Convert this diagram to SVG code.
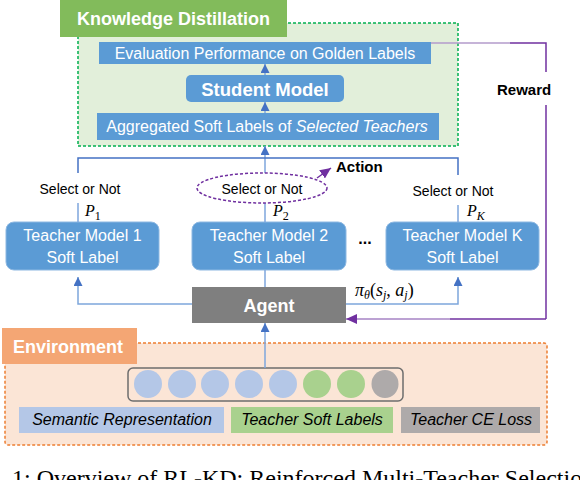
<svg xmlns="http://www.w3.org/2000/svg" width="580" height="480" viewBox="0 0 580 480">
<defs>
<style>
.sans{font-family:"Liberation Sans",Arial,sans-serif}
.serif{font-family:"Liberation Serif","Times New Roman",serif}
.box{fill:#5B9BD5}
.tbox{fill:#5B9BD5;stroke:#8DB8E2;stroke-width:1}
.wt{fill:#ffffff;font-family:"Liberation Sans",Arial,sans-serif;font-size:16px;text-anchor:middle}
.wb{fill:#ffffff;font-family:"Liberation Sans",Arial,sans-serif;font-weight:bold}
.bl{fill:none;stroke:#7EA6DC;stroke-width:1.5}
.bd{fill:none;stroke:#4472C4;stroke-width:1.5}
.pl{fill:none;stroke:#7030A0;stroke-width:1.5}
.sel{font-family:"Liberation Sans",Arial,sans-serif;font-size:14px;fill:#000;text-anchor:middle}
.p{font-family:"Liberation Serif","Times New Roman",serif;font-style:italic;fill:#000}
.leg{font-family:"Liberation Sans",Arial,sans-serif;font-style:italic;font-size:16px;fill:#000;text-anchor:middle}
</style>
<marker id="ab" markerWidth="9" markerHeight="9" refX="9" refY="4.5" orient="auto" markerUnits="userSpaceOnUse"><path d="M0,0 L9,4.5 L0,9 z" fill="#4472C4"/></marker>
<marker id="ap" markerWidth="11" markerHeight="10" refX="11" refY="5" orient="auto" markerUnits="userSpaceOnUse"><path d="M0,0 L11,5 L0,10 z" fill="#7030A0"/></marker>
</defs>
<rect width="580" height="480" fill="#ffffff"/>

<g id="environment">
<rect x="5" y="343" width="542" height="102" rx="3" fill="#FBE5D6" stroke="#ED7D31" stroke-width="1.5" stroke-dasharray="3,2"/>
<rect x="2" y="328" width="135" height="36" fill="#F4A674"/>
<text x="13" y="353" class="wb" font-size="18">Environment</text>
</g>

<g id="state-vector">
<rect x="128" y="368" width="275" height="33" rx="5" fill="none" stroke="#6E6E6E" stroke-width="1.5"/>
<circle cx="148" cy="384" r="14" fill="#B4C7E7"/>
<circle cx="182" cy="384" r="14" fill="#B4C7E7"/>
<circle cx="215" cy="384" r="14" fill="#B4C7E7"/>
<circle cx="249" cy="384" r="14" fill="#B4C7E7"/>
<circle cx="283" cy="384" r="14" fill="#B4C7E7"/>
<circle cx="317" cy="384" r="14" fill="#A9D18E"/>
<circle cx="351" cy="384" r="14" fill="#A9D18E"/>
<ellipse cx="385" cy="384" rx="13.5" ry="14" fill="#AEAAAA"/>
</g>

<g id="legend-semantic">
<rect x="19" y="407" width="205" height="26" fill="#B4C7E7"/>
<text x="122" y="425" class="leg">Semantic Representation</text>
</g>
<g id="legend-soft">
<rect x="231" y="407" width="162" height="26" fill="#A9D18E"/>
<text x="312" y="425" class="leg">Teacher Soft Labels</text>
</g>
<g id="legend-ce">
<rect x="401" y="407" width="139" height="26" fill="#AEAAAA"/>
<text x="471" y="425" class="leg">Teacher CE Loss</text>
</g>

<g id="knowledge-distillation">
<rect x="78" y="23" width="380" height="123" fill="#E2EFDA" stroke="#00B050" stroke-width="1.5" stroke-dasharray="3,2"/>
<rect x="60" y="0" width="227" height="37" fill="#82BB5B"/>
<text x="77" y="25" class="wb" font-size="18">Knowledge Distillation</text>
</g>

<g id="evaluation">
<rect x="99" y="42" width="332" height="22" class="box"/>
<text x="265" y="59" class="wt">Evaluation Performance on Golden Labels</text>
</g>
<g id="student">
<rect x="186" y="75" width="158" height="27" rx="5" class="box"/>
<text x="265" y="96" class="wb" font-size="18.5" text-anchor="middle">Student Model</text>
</g>
<g id="aggregated">
<rect x="97" y="113" width="342" height="27" class="box"/>
<text x="267" y="132" class="wt">Aggregated Soft Labels of  <tspan font-style="italic">Selected Teachers</tspan></text>
</g>

<g id="teacher1">
<rect x="6" y="222" width="153" height="48" rx="8" class="tbox"/>
<text x="82.5" y="241" class="wt">Teacher Model 1</text>
<text x="82.5" y="263" class="wt">Soft Label</text>
</g>
<g id="teacher2">
<rect x="192" y="222" width="154" height="48" rx="8" class="tbox"/>
<text x="269" y="241" class="wt">Teacher Model 2</text>
<text x="269" y="263" class="wt">Soft Label</text>
</g>
<text x="365" y="244" class="sans" font-size="16" font-weight="bold" text-anchor="middle" fill="#000">...</text>
<g id="teacherK">
<rect x="386" y="222" width="153" height="48" rx="8" class="tbox"/>
<text x="462.5" y="241" class="wt">Teacher Model K</text>
<text x="462.5" y="263" class="wt">Soft Label</text>
</g>

<g id="agent">
<rect x="192" y="287" width="154" height="36" fill="#7F7F7F"/>
<text x="269" y="312" class="wb" font-size="18" text-anchor="middle">Agent</text>
</g>

<g id="connectors">
<line x1="265" y1="75" x2="265" y2="64" class="bl" marker-end="url(#ab)"/>
<line x1="265" y1="113" x2="265" y2="102" class="bl" marker-end="url(#ab)"/>
<line x1="265" y1="173" x2="265" y2="146" class="bl" marker-end="url(#ab)"/>
<polyline points="78,173 78,158 458,158 458,175" class="bd"/>
<line x1="78" y1="203" x2="78" y2="222" class="bl"/>
<line x1="265" y1="203" x2="265" y2="222" class="bl"/>
<line x1="458" y1="205" x2="458" y2="222" class="bl"/>
<line x1="265" y1="270" x2="265" y2="287" class="bl"/>
<polyline points="192,304 78,304 78,277" class="bl" marker-end="url(#ab)"/>
<polyline points="346,304 458,304 458,277" class="bl" marker-end="url(#ab)"/>
<line x1="265" y1="368" x2="265" y2="323" class="bl" marker-end="url(#ab)"/>
<line x1="431" y1="43" x2="510" y2="43" stroke="#B39BCB" stroke-width="1.5"/>
<polyline points="510,43 546,43 546,72" class="pl"/>
<line x1="546" y1="105" x2="546" y2="319" class="pl"/>
<line x1="546" y1="319" x2="450" y2="319" class="pl"/>
<line x1="450" y1="319" x2="346" y2="319" stroke="#A683C4" stroke-width="1.5" marker-end="url(#ap)"/>
<line x1="317" y1="178" x2="331" y2="168" class="pl" marker-end="url(#ap)"/>
</g>

<g id="action">
<ellipse cx="262" cy="188" rx="65" ry="15" fill="#ffffff" stroke="#7030A0" stroke-width="1.5" stroke-dasharray="3,2"/>
<text x="262" y="194" class="sel">Select or Not</text>
<text x="336" y="172" class="sans" font-size="15" font-weight="bold" fill="#000">Action</text>
</g>

<g id="labels">
<text x="80" y="194" class="sel">Select or Not</text>
<text x="453" y="196" class="sel">Select or Not</text>
<text x="85" y="216" class="p" style="font-size:16px">P<tspan style="font-size:12px;font-style:normal" dy="4">1</tspan></text>
<text x="273" y="216" class="p" style="font-size:16px">P<tspan style="font-size:12px;font-style:normal" dy="4">2</tspan></text>
<text x="467" y="216" class="p" style="font-size:16px">P<tspan style="font-size:12px" dy="4">K</tspan></text>
<text x="355" y="296" class="p" style="font-size:18px">π<tspan style="font-size:12px" dy="3">θ</tspan><tspan dy="-3" style="font-style:normal">(</tspan>s<tspan style="font-size:12px" dy="3">j</tspan><tspan dy="-3" style="font-style:normal">, </tspan>a<tspan style="font-size:12px" dy="3">j</tspan><tspan dy="-3" style="font-style:normal">)</tspan></text>
<text x="497" y="95" class="sans" font-size="15" font-weight="bold" fill="#000">Reward</text>
</g>

<text x="12" y="486" class="serif" font-size="24" fill="#000">1: Overview of RL-KD: Reinforced Multi-Teacher Selection</text>
</svg>
